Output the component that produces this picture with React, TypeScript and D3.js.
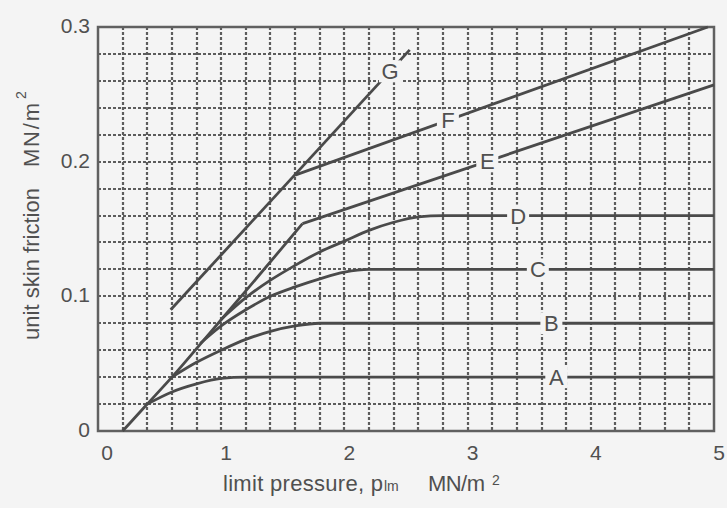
import React, { useEffect, useRef } from 'react';
import * as d3 from 'd3';

// axis ticks
const xTicks = [0, 1, 2, 3, 4, 5];
const yTicks = [0, 0.1, 0.2, 0.3];
const yTickLabels = ['0', '0.1', '0.2', '0.3'];

// common line from the origin (up to the E kink)
const trunkX = [0.2, 0.4, 0.6, 0.9, 1.2, 1.66];
const trunkY = [0, 0.02, 0.04, 0.072, 0.104, 0.154];

// branches, each starting where it leaves the common line
const aX = [0.4, 0.6, 0.8, 1.0, 1.2, 5];
const aY = [0.02, 0.029, 0.035, 0.039, 0.04, 0.04];
const bX = [0.6, 0.8, 1.0, 1.2, 1.4, 1.6, 1.8, 5];
const bY = [0.04, 0.051, 0.06, 0.068, 0.074, 0.078, 0.08, 0.08];
const cX = [0.83, 1.0, 1.2, 1.4, 1.6, 1.8, 2.0, 2.2, 5];
const cY = [0.065, 0.078, 0.09, 0.1, 0.107, 0.113, 0.118, 0.12, 0.12];
const dX = [1.0, 1.2, 1.4, 1.6, 1.8, 2.0, 2.2, 2.4, 2.6, 2.8, 5];
const dY = [0.083, 0.099, 0.112, 0.123, 0.133, 0.141, 0.149, 0.155, 0.159, 0.16, 0.16];
const eX = [1.66, 5];
const eY = [0.154, 0.257];
const fX = [1.6, 4.95];
const fY = [0.19, 0.3];
const gX = [0.59, 2.53];
const gY = [0.09, 0.283];

const curveNames = ['A', 'B', 'C', 'D', 'E', 'F', 'G'];
const labelX = [3.72, 3.68, 3.57, 3.41, 3.16, 2.84, 2.37];

export default function App() {
  const ref = useRef(null);

  function drawChart() {
    const width = 727;
    const height = 508;
    const left = 98, right = 714, top = 27, bottom = 431;
    const bg = '#f4f4f4';
    const ink = '#505050';
    const font = "'Liberation Sans', Arial, sans-serif";

    const x = d3.scaleLinear().domain([0, 5]).range([left, right]);
    const y = d3.scaleLinear().domain([0, 0.3]).range([bottom, top]);

    const svg = d3.select(ref.current).attr('width', width).attr('height', height);
    svg.selectAll('*').remove();

    svg.append('rect').attr('width', width).attr('height', height).attr('fill', bg);

    // dotted grid
    const grid = svg.append('g').attr('stroke', '#5c5c5c').attr('stroke-width', 2.2).attr('stroke-dasharray', '3,2');
    grid
      .selectAll('line.v')
      .data(d3.range(1, 25).map(i => i * 0.2))
      .join('line')
      .attr('x1', d => Math.round(x(d)))
      .attr('x2', d => Math.round(x(d)))
      .attr('y1', top)
      .attr('y2', bottom);
    grid
      .selectAll('line.h')
      .data(d3.range(1, 15).map(i => i * 0.02))
      .join('line')
      .attr('x1', left)
      .attr('x2', right)
      .attr('y1', d => Math.round(y(d)))
      .attr('y2', d => Math.round(y(d)));

    svg
      .append('rect')
      .attr('x', left)
      .attr('y', top)
      .attr('width', right - left)
      .attr('height', bottom - top)
      .attr('fill', 'none')
      .attr('stroke', '#606060')
      .attr('stroke-width', 2.5);

    // curves
    const line = d3
      .line()
      .x(d => x(d[0]))
      .y(d => y(d[1]))
      .curve(d3.curveMonotoneX);
    const series = [
      [trunkX, trunkY],
      [aX, aY],
      [bX, bY],
      [cX, cY],
      [dX, dY],
      [eX, eY],
      [fX, fY],
      [gX, gY],
    ];
    svg
      .append('g')
      .selectAll('path')
      .data(series)
      .join('path')
      .attr('d', s => line(s[0].map((v, i) => [v, s[1][i]])))
      .attr('fill', 'none')
      .attr('stroke', '#4a4a4a')
      .attr('stroke-width', 2.8)
      .attr('stroke-linejoin', 'round');

    // curve letters sit on the lines, with a blank behind them
    const labels = curveNames.map((name, i) => {
      const s = series[i + 1];
      const at = d3.scaleLinear().domain(s[0]).range(s[1]);
      return { name, px: x(labelX[i]), py: y(at(labelX[i])) };
    });
    const lab = svg.append('g').selectAll('g').data(labels).join('g');
    lab
      .append('rect')
      .attr('x', d => d.px - 11)
      .attr('y', d => d.py - 11)
      .attr('width', 22)
      .attr('height', 22)
      .attr('fill', bg);
    lab
      .append('text')
      .attr('x', d => d.px)
      .attr('y', d => d.py + 8)
      .attr('text-anchor', 'middle')
      .attr('font-family', font)
      .attr('font-size', 22)
      .attr('fill', ink)
      .text(d => d.name);

    // tick labels
    svg
      .append('g')
      .selectAll('text')
      .data(xTicks)
      .join('text')
      .attr('x', d => x(d) + (d === 0 ? 9 : 5))
      .attr('y', 460)
      .attr('text-anchor', 'middle')
      .attr('font-family', font)
      .attr('font-size', 21)
      .attr('fill', ink)
      .text(d => d);
    svg
      .append('g')
      .selectAll('text')
      .data(yTicks)
      .join('text')
      .attr('x', 90)
      .attr('y', d => y(d) + 6)
      .attr('text-anchor', 'end')
      .attr('font-family', font)
      .attr('font-size', 21)
      .attr('fill', ink)
      .text((d, i) => yTickLabels[i]);

    // axis titles
    const xt = svg.append('g').attr('font-family', font).attr('fill', ink);
    xt.append('text').attr('x', 223).attr('y', 491).attr('font-size', 22).attr('textLength', 160).text('limit pressure, p');
    xt.append('text').attr('x', 384).attr('y', 491).attr('font-size', 14).text('lm');
    xt.append('text').attr('x', 428).attr('y', 491).attr('font-size', 22).attr('textLength', 57).text('MN/m');
    xt.append('text').attr('x', 492).attr('y', 485).attr('font-size', 14).text('2');

    const yt = svg.append('g').attr('font-family', font).attr('fill', ink);
    yt.append('text')
      .attr('transform', 'translate(39,340) rotate(-90)')
      .attr('font-size', 22)
      .attr('textLength', 152)
      .text('unit skin friction');
    yt.append('text')
      .attr('transform', 'translate(39,167) rotate(-90)')
      .attr('font-size', 22)
      .attr('textLength', 64)
      .text('MN/m');
    yt.append('text')
      .attr('transform', 'translate(26,99) rotate(-90)')
      .attr('font-size', 14)
      .text('2');
  }

  useEffect(() => drawChart(), []);
  return (
    <div style={{ position: 'fixed', left: 0, top: 0 }}>
      <svg ref={ref} style={{ display: 'block' }} />
    </div>
  );
}
